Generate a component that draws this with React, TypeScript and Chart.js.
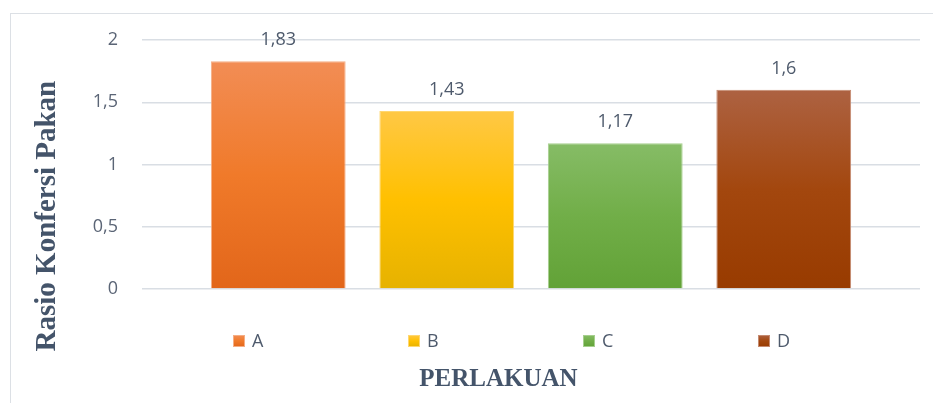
import React, { useEffect, useRef } from 'react';
import { Chart, registerables } from 'chart.js';

Chart.register(...registerables);

// ---- data ----
const CATEGORIES = ['A', 'B', 'C', 'D'];
const VALUES = [1.83, 1.43, 1.17, 1.6];
const Y_TICKS = [0, 0.5, 1, 1.5, 2];
const Y_TITLE = 'Rasio Konfersi Pakan';
const X_TITLE = 'PERLAKUAN';

// ---- styles ----
const GRADIENT_TOP = ['#F28D55', '#FFC845', '#86BC66', '#AD6242'];
const GRADIENT_MID = ['#F07A2A', '#FFC000', '#71AE48', '#A3470E'];
const GRADIENT_BOTTOM = ['#E2661A', '#E6B200', '#62A237', '#983B00'];
const BAR_BORDER = ['#F5AE85', '#FFD770', '#A6CF8E', '#C58A70'];
const TITLE_COLOR = '#44546A';
const TEXT_COLOR = '#4E5A6C';
const TICK_COLOR = '#5B6576';
const GRID_COLOR = '#D9DEE4';
const SANS = '"Open Sans", "Noto Sans", sans-serif';
const SERIF = '"Liberation Serif", "Times New Roman", serif';

const fmt = (v: number) => String(v).replace('.', ',');

const X_PAD = 0.3086;

function makeGradient(ctx: CanvasRenderingContext2D, i: number, top: number, bottom: number) {
  const g = ctx.createLinearGradient(0, top, 0, bottom);
  g.addColorStop(0, GRADIENT_TOP[i]);
  g.addColorStop(0.5, GRADIENT_MID[i]);
  g.addColorStop(1, GRADIENT_BOTTOM[i]);
  return g;
}

const valueLabels = {
  id: 'valueLabels',
  afterDatasetsDraw(chart: any) {
    const { ctx } = chart;
    const meta = chart.getDatasetMeta(0);
    ctx.save();
    ctx.font = `18px ${SANS}`;
    ctx.fillStyle = TEXT_COLOR;
    ctx.textAlign = 'center';
    ctx.textBaseline = 'alphabetic';
    meta.data.forEach((bar: any, i: number) => {
      ctx.fillText(fmt(VALUES[i]), bar.x, bar.y - 16);
    });
    ctx.restore();
  },
};

const spreadLegend = {
  id: 'spreadLegend',
  afterDraw(chart: any, _args: any, opts: any) {
    const { ctx, chartArea } = chart;
    const x0 = chartArea.left + opts.offsetX;
    const y0 = chartArea.bottom + opts.offsetY;
    ctx.save();
    ctx.font = `18px ${SANS}`;
    ctx.textAlign = 'left';
    ctx.textBaseline = 'middle';
    CATEGORIES.forEach((label, i) => {
      const x = x0 + i * opts.spacing;
      ctx.fillStyle = makeGradient(ctx, i, y0, y0 + opts.box);
      ctx.fillRect(x, y0, opts.box, opts.box);
      ctx.strokeStyle = BAR_BORDER[i];
      ctx.lineWidth = 1;
      ctx.strokeRect(x + 0.5, y0 + 0.5, opts.box - 1, opts.box - 1);
      ctx.fillStyle = TEXT_COLOR;
      ctx.fillText(label, x + opts.box + 7, y0 + opts.box / 2 + 1);
    });
    ctx.restore();
  },
};

export default function App() {
  const canvasRef = useRef<HTMLCanvasElement | null>(null);

  useEffect(() => {
    if (!canvasRef.current) return;
    const chart = new Chart(canvasRef.current, {
      type: 'bar',
      data: {
        datasets: [
          {
            label: 'Rasio',
            data: CATEGORIES.map((_, i) => ({ x: i, y: VALUES[i] })),
            backgroundColor: (c: any) => {
              const i = c.dataIndex;
              const chart = c.chart;
              const y = chart.scales && chart.scales.y;
              if (!chart.chartArea || !y || i == null) return GRADIENT_MID[i ?? 0];
              const top = y.getPixelForValue(VALUES[i]);
              const bottom = y.getPixelForValue(0);
              if (!isFinite(top) || !isFinite(bottom)) return GRADIENT_MID[i];
              return makeGradient(chart.ctx, i, top, bottom);
            },
            borderColor: BAR_BORDER,
            borderWidth: 1,
            categoryPercentage: 1,
            barPercentage: 0.8,
          } as any,
        ],
      },
      options: {
        responsive: false,
        animation: false,
        devicePixelRatio: 1,
        layout: { padding: { top: 27, bottom: 27.8, left: 0, right: 0 } },
        scales: {
          x: {
            type: 'linear',
            offset: false,
            min: -0.5 - X_PAD,
            max: CATEGORIES.length - 0.5 + X_PAD,
            grid: { display: false },
            border: { display: false },
            ticks: { display: false },
            afterBuildTicks: (s: any) => {
              s.ticks = CATEGORIES.map((_, i) => ({ value: i }));
            },
            afterFit: (s: any) => {
              s.height = 78.2;
              s.paddingLeft = 0;
              s.paddingRight = 0;
            },
          },
          y: {
            position: 'left',
            min: 0,
            max: 2,
            afterBuildTicks: (s: any) => {
              s.ticks = Y_TICKS.map((v) => ({ value: v }));
            },
            ticks: {
              padding: 24,
              color: TICK_COLOR,
              font: { family: SANS, size: 18 },
              callback: (v: any) => fmt(Number(v)),
            },
            grid: { color: GRID_COLOR, lineWidth: 1.5, drawTicks: false },
            border: { display: false },
            afterFit: (s: any) => {
              s.width = 80;
              s.paddingTop = 0;
              s.paddingBottom = 0;
            },
          },
          yRight: {
            position: 'right',
            grid: { display: false },
            border: { display: false },
            ticks: { display: false },
            afterFit: (s: any) => {
              s.width = 67;
              s.paddingTop = 0;
              s.paddingBottom = 0;
            },
          },
        } as any,
        plugins: {
          legend: { display: false },
          tooltip: { enabled: false },
          title: {
            display: true,
            position: 'left',
            text: Y_TITLE,
            color: TITLE_COLOR,
            font: { family: SERIF, size: 29, weight: 'bold', lineHeight: 1 },
            padding: { top: 23, bottom: 0 },
          },
          subtitle: {
            display: true,
            position: 'bottom',
            text: X_TITLE,
            color: TITLE_COLOR,
            font: { family: SERIF, size: 25, weight: 'bold', lineHeight: 1 },
            padding: { top: 0, bottom: 0 },
          },
          spreadLegend: { offsetX: 91, offsetY: 46, spacing: 175, box: 12 },
        } as any,
      },
      plugins: [valueLabels, spreadLegend],
    });
    return () => chart.destroy();
  }, []);

  return (
    <div
      style={{
        position: 'fixed',
        left: 0,
        top: 0,
        width: 933,
        height: 403,
        overflow: 'hidden',
        background: '#ffffff',
      }}
    >
      <div
        style={{
          position: 'absolute',
          left: 10,
          top: 13,
          width: 977,
          height: 407,
          border: '1.5px solid #DCE0E5',
          boxSizing: 'border-box',
        }}
      />
      <canvas
        ref={canvasRef}
        width={977}
        height={407}
        style={{ position: 'absolute', left: 10, top: 13, width: 977, height: 407 }}
      />
    </div>
  );
}
